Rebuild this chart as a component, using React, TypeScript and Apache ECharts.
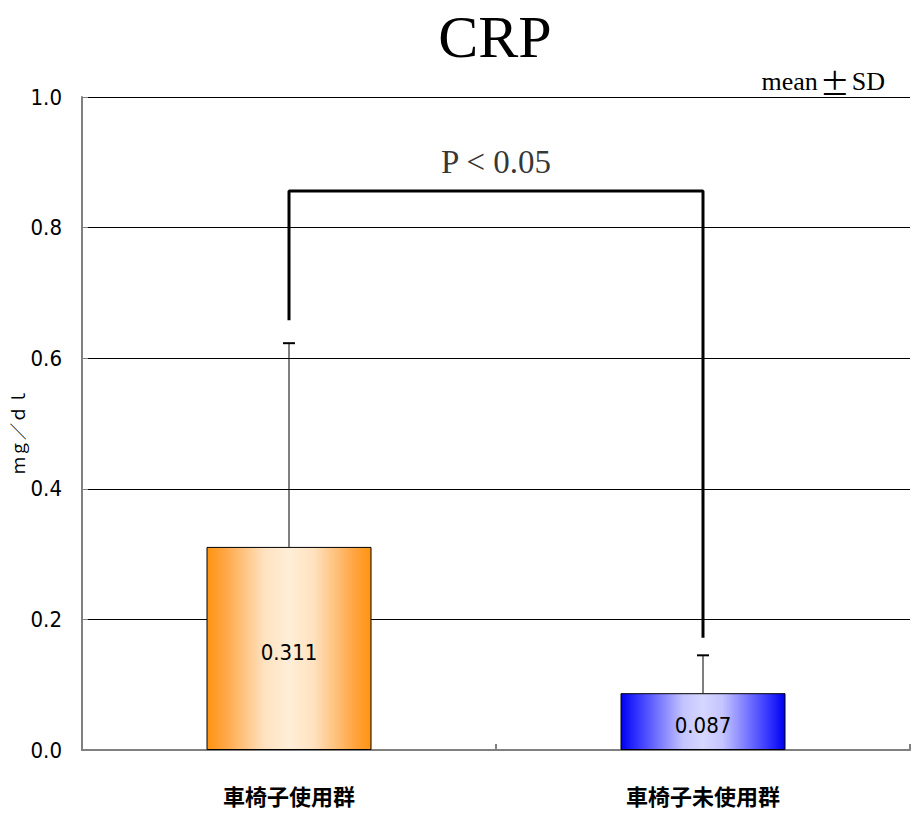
import React, { useEffect, useRef } from "react";
import * as echarts from "echarts";

const categories = ["車椅子使用群", "車椅子未使用群"];
const means = [0.311, 0.087];
const sds = [0.312, 0.058];
const yMin = 0;
const yMax = 1.0;
const yInterval = 0.2;
const bracketX = [0, 0, 1, 1];
const bracketY = [0.658, 0.856, 0.856, 0.172];
const pText = "P < 0.05";
const pTextPos = [0.5, 0.9];
const titleText = "CRP";
const noteText = ["mean", "±", "SD"];
const yAxisName = "ｍｇ／ｄｌ";

const narrow = "'DejaVu Sans Condensed', 'Liberation Sans Narrow', 'Liberation Sans', sans-serif";
const serif = "'Liberation Serif', 'Times New Roman', serif";
const cjk = "'Noto Sans CJK JP', sans-serif";

const orange = new echarts.graphic.LinearGradient(0, 0, 1, 0, [
  { offset: 0, color: "#ff9410" },
  { offset: 0.1, color: "#ffa440" },
  { offset: 0.35, color: "#ffe2c0" },
  { offset: 0.5, color: "#ffeed8" },
  { offset: 0.65, color: "#ffe2c0" },
  { offset: 0.9, color: "#ffa440" },
  { offset: 1, color: "#ff9410" },
]);
const blue = new echarts.graphic.LinearGradient(0, 0, 1, 0, [
  { offset: 0, color: "#0000f0" },
  { offset: 0.1, color: "#3434ff" },
  { offset: 0.38, color: "#c4c4ff" },
  { offset: 0.5, color: "#d6d6ff" },
  { offset: 0.62, color: "#c4c4ff" },
  { offset: 0.9, color: "#3434ff" },
  { offset: 1, color: "#0000f0" },
]);
const barColors = [orange, blue];

export default function App() {
  const ref = useRef<HTMLDivElement>(null);
  useEffect(() => {
    if (!ref.current) return;
    const chart = echarts.init(ref.current, null, { renderer: "svg" });
    const errData = means.map((m, i) => [i, m, m + sds[i]]);
    chart.setOption({
      animation: false,
      backgroundColor: "#ffffff",
      title: [
        {
          text: titleText,
          left: 490,
          top: 2,
          textAlign: "center",
          textStyle: { fontFamily: serif, fontSize: 60, fontWeight: "normal", color: "#000" },
        },
        {
          text: `{a|${noteText[0]}}{b|${noteText[1]}}{a|${noteText[2]}}`,
          right: 24,
          top: 62,
          textStyle: {
            fontWeight: "normal",
            rich: {
              a: { fontFamily: serif, fontSize: 26, fontWeight: "normal", color: "#000" },
              b: { fontFamily: cjk, fontSize: 30, fontWeight: "normal", color: "#000", padding: [0, 2, 0, 2] },
            },
          },
        },
      ],
      grid: { left: 82, right: 4, top: 97, bottom: 70, containLabel: false, outerBoundsMode: "none" },
      xAxis: [
        {
          type: "category",
          data: categories,
          axisLine: { lineStyle: { color: "#808080", width: 2 } },
          axisTick: { show: true, inside: true, length: 6, alignWithLabel: false, lineStyle: { color: "#808080", width: 2 } },
          axisLabel: { fontFamily: cjk, fontSize: 22, fontWeight: "bold", color: "#000", margin: 34 },
          splitLine: { show: false },
        },
        { type: "value", min: -0.5, max: 1.5, show: false },
      ],
      yAxis: {
        type: "value",
        min: yMin,
        max: yMax,
        interval: yInterval,
        name: yAxisName,
        nameLocation: "middle",
        nameRotate: 90,
        nameGap: 56,
        nameMoveOverlap: false,
        nameTextStyle: { fontFamily: cjk, fontSize: 17, color: "#000", padding: [0, 16, 0, 0] },
        axisLine: { show: true, onZero: false, lineStyle: { color: "#808080", width: 2 } },
        axisTick: { show: true, inside: true, length: 6, lineStyle: { color: "#808080" } },
        axisLabel: {
          fontFamily: narrow,
          fontSize: 22,
          color: "#000",
          margin: 20,
          formatter: (v: number) => v.toFixed(1),
        },
        splitLine: { show: true, lineStyle: { color: "#000", width: 1 } },
      },
      series: [
        {
          type: "bar",
          barWidth: 165,
          data: means.map((m, i) => ({
            value: m,
            itemStyle: { color: barColors[i], borderColor: "#000", borderWidth: 1 },
          })),
          label: {
            show: true,
            position: "inside",
            fontFamily: narrow,
            fontSize: 22,
            color: "#000",
            textBorderWidth: 0,
            offset: [0, 4],
            formatter: (p: any) => String(p.value),
          },
          z: 2,
        },
        {
          type: "custom",
          data: errData,
          z: 3,
          renderItem: (params: any, api: any) => {
            const idx = api.value(0);
            const lo = api.coord([idx, api.value(1)]);
            const hi = api.coord([idx, api.value(2)]);
            const half = 6;
            return {
              type: "group",
              children: [
                { type: "line", shape: { x1: lo[0], y1: lo[1], x2: hi[0], y2: hi[1] }, style: { stroke: "#000", lineWidth: 1 } },
                { type: "line", shape: { x1: hi[0] - half, y1: hi[1], x2: hi[0] + half, y2: hi[1] }, style: { stroke: "#000", lineWidth: 2 } },
              ],
            };
          },
        },
        {
          type: "line",
          xAxisIndex: 1,
          data: bracketX.map((x, i) => [x, bracketY[i]]),
          symbol: "none",
          lineStyle: { color: "#000", width: 3 },
          z: 4,
        },
        {
          type: "scatter",
          xAxisIndex: 1,
          data: [pTextPos],
          symbolSize: 0,
          itemStyle: { color: "#000" },
          label: {
            show: true,
            position: "inside",
            formatter: pText,
            fontFamily: serif,
            fontSize: 33,
            color: "#000",
            textBorderWidth: 0,
          },
          z: 5,
        },
      ],
    });
    return () => chart.dispose();
  }, []);
  return <div ref={ref} style={{ position: "absolute", left: 0, top: 0, width: 914, height: 820 }} />;
}
